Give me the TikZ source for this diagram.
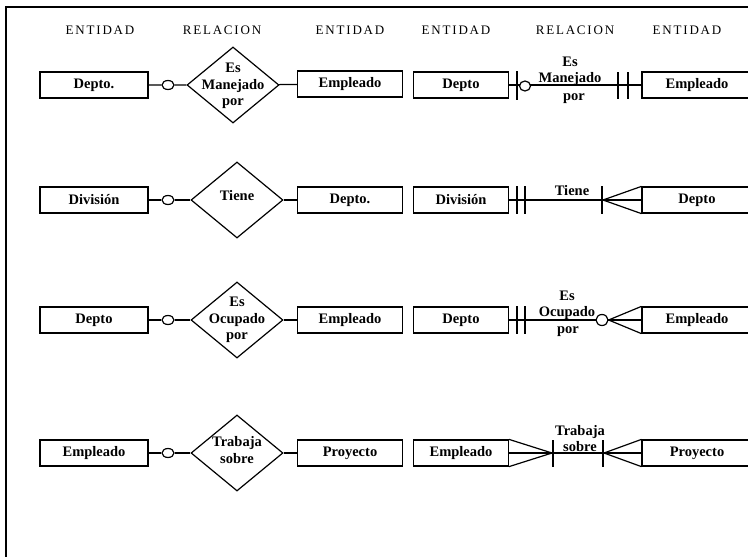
\documentclass[tikz,border=0pt]{standalone}
\usepackage{fontspec}
\setmainfont{Liberation Serif}
\newfontfamily\encfont[LetterSpace=14]{Liberation Serif}
\usetikzlibrary{shapes.geometric,positioning,calc}

\newcommand{\lbl}{\fontsize{14.5}{16.5}\selectfont\bfseries}
\newcommand{\enc}{\encfont\fontsize{13}{15}\selectfont}

\tikzset{
  ent/.style={draw, line width=1.2pt, minimum width=108pt, minimum height=26pt, inner sep=0pt, font=\lbl},
  entm/.style={ent, minimum width=105pt},
  entd/.style={ent, minimum width=95pt},
  entf/.style={ent, minimum width=110pt},
  rel/.style={draw, diamond, line width=1.2pt, minimum width=92pt, minimum height=76pt, inner sep=0pt},
  reltxt/.style={font=\lbl, align=center, inner sep=0pt},
  opc/.style={draw, ellipse, fill=white, line width=1.2pt, minimum width=12pt, minimum height=9pt, inner sep=0pt},
  con/.style={line width=1.2pt},
  hdr/.style={font=\enc},
}

\begin{document}
\begin{tikzpicture}[x=1pt, y=-1pt]
  \useasboundingbox (0,0) rectangle (748,557);
  \clip (0,0) rectangle (748,557);
  % marco
  \draw[line width=1.5pt] (6,557) -- (6,7) -- (760,7);

  % cabeceras
  \node[hdr] (h1) at (100,30) {ENTIDAD};
  \node[hdr] (h2) at (222,30) {RELACION};
  \node[hdr] (h3) at (350,30) {ENTIDAD};
  \node[hdr] (h4) at (456,30) {ENTIDAD};
  \node[hdr] (h5) at (575,30) {RELACION};
  \node[hdr] (h6) at (687,30) {ENTIDAD};

  % fila 1, izquierda
  \node[ent] (a1) at (94,85) {Depto.};
  \node[opc] (o1) at (168,85) {};
  \node[rel] (r1) at (233,85) {};
  \node[reltxt] (t1) at (233,86) {Es\\Manejado\\por};
  \node[entm] (b1) at (350,84) {Empleado};
  \draw[con] (a1) -- (o1) -- (r1) -- (b1);

  % fila 1, derecha
  \node[entd] (c1) at (461,85) {Depto};
  \node[entf] (d1) at (697,85) {Empleado};
  \draw[con] (c1) -- (d1);
  \node[opc, minimum width=11pt, minimum height=10pt] (p1) at (525,86) {};
  \draw[con] (517,71) -- (517,100);
  \draw[con] (618,72) -- (618,99) (628,72) -- (628,99);
  \node[reltxt, anchor=south] (l1) at (570,86) {Es\\Manejado};
  \node[reltxt, anchor=base] (m1) at (574,100) {por};

  % fila 2, izquierda
  \node[ent] (a2) at (94,200) {División};
  \node[opc] (o2) at (168,200) {};
  \node[rel] (r2) at (237,200) {};
  \node[reltxt] (t2) at (237,196) {Tiene};
  \node[entm] (b2) at (350,200) {Depto.};
  \draw[con] (a2) -- (o2) -- (r2) -- (b2);

  % fila 2, derecha
  \node[entd] (c2) at (461,200) {División};
  \node[entf] (d2) at (697,200) {Depto};
  \coordinate (k2) at (603,200);
  \draw[con] (c2) -- (d2);
  \draw[con] (517,186) -- (517,214) (525,186) -- (525,214);
  \draw[con] (602,186) -- (602,214);
  \draw[con] (k2) -- (d2.north west) (k2) -- (d2.south west);
  \node[reltxt, anchor=south] (l2) at (572,196) {Tiene};

  % fila 3, izquierda
  \node[ent] (a3) at (94,320) {Depto};
  \node[opc] (o3) at (168,320) {};
  \node[rel] (r3) at (237,320) {};
  \node[reltxt] (t3) at (237,320) {Es\\Ocupado\\por};
  \node[entm] (b3) at (350,320) {Empleado};
  \draw[con] (a3) -- (o3) -- (r3) -- (b3);

  % fila 3, derecha
  \node[entd] (c3) at (461,320) {Depto};
  \node[entf] (d3) at (697,320) {Empleado};
  \draw[con] (c3) -- (d3);
  \draw[con] (517,306) -- (517,334) (525,306) -- (525,334);
  \node[opc, minimum width=12pt, minimum height=11pt] (p3) at (602,320) {};
  \draw[con] (p3.east) -- (d3.north west) (p3.east) -- (d3.south west);
  \node[reltxt, anchor=south] (l3) at (567,320) {Es\\Ocupado};
  \node[reltxt, anchor=base] (m3) at (568,333) {por};

  % fila 4, izquierda
  \node[ent] (a4) at (94,453) {Empleado};
  \node[opc] (o4) at (168,453) {};
  \node[rel] (r4) at (237,453) {};
  \node[reltxt] (t4) at (237,450) {Trabaja\\sobre};
  \node[entm] (b4) at (350,453) {Proyecto};
  \draw[con] (a4) -- (o4) -- (r4) -- (b4);

  % fila 4, derecha
  \node[entd] (c4) at (461,453) {Empleado};
  \node[entf] (d4) at (697,453) {Proyecto};
  \coordinate (m4) at (552,453);
  \coordinate (k4) at (604,453);
  \draw[con] (c4) -- (d4);
  \draw[con] (c4.north east) -- (m4) -- (c4.south east);
  \draw[con] (553,440) -- (553,467) (603,440) -- (603,467);
  \draw[con] (k4) -- (d4.north west) (k4) -- (d4.south west);
  \node[reltxt, anchor=south] (l4) at (580,452) {Trabaja\\sobre};
\end{tikzpicture}
\end{document}
